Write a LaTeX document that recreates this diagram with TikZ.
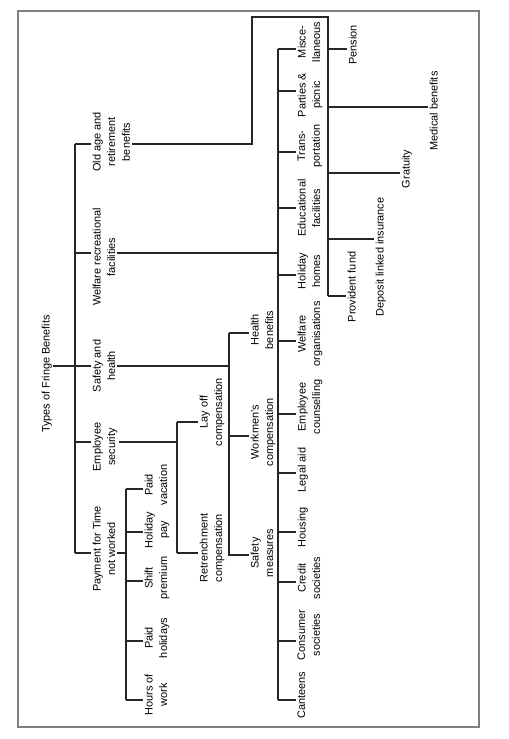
\documentclass[tikz,border=0pt]{standalone}
\usepackage{fontspec}
\setmainfont{Liberation Sans}
\begin{document}
\begin{tikzpicture}[x=0.75pt, y=-0.75pt,
        lbl/.style={rotate=90, anchor=north, align=center, inner sep=1pt,
            font=\fontsize{8.2}{11}\selectfont},
        link/.style={line width=0.8pt, color=black!85}]
    \useasboundingbox (0,0) rectangle (509,739);
    \draw[gray, line width=1.2pt] (18,11) rectangle (479,727);

    % root and first level
    \node[lbl] (fringe) at (40,374) {Types of Fringe Benefits};
    \node[lbl] (oldage) at (91,142) {Old age and\\retirement\\benefits};
    \node[lbl] (welfare) at (91,257) {Welfare recreational\\facilities};
    \node[lbl] (safety) at (91,366) {Safety and\\health};
    \node[lbl] (security) at (91,447) {Employee\\security};
    \node[lbl] (payment) at (91,549) {Payment for Time\\not worked};

    \coordinate (jold) at (75,144);
    \coordinate (jwelf) at (75,253);
    \coordinate (jroot) at (75,366);
    \coordinate (jsec) at (75,442);
    \coordinate (jpay) at (75,553);
    \draw[link] (jold) -- (jpay);
    \draw[link] (jroot -| fringe.south) -- (jroot -| safety.north);
    \foreach \j/\nm in {jold/oldage, jwelf/welfare, jsec/security, jpay/payment}
        \draw[link] (\j) -- (\j -| \nm.north);

    % old age and retirement benefits
    \coordinate (obend) at (252,17);
    \coordinate (otop) at (328,17);
    \coordinate (obot) at (328,296);
    \draw[link] (jold -| oldage.south) -| (obend) -- (otop) -- (obot);
    \foreach \nm/\nx/\ty/\cy/\txt in {pension/347/49/45/{Pension},
            medical/428/107/111/{Medical benefits},
            gratuity/400/173/169/{Gratuity},
            deposit/374/239/257/{Deposit linked insurance},
            provident/346/296/287/{Provident fund}} {
        \node[lbl] (\nm) at (\nx,\cy) {\txt};
        \coordinate (\nm-t) at (328,\ty);
        \draw[link] (\nm-t) -- (\nm-t -| \nm.north);
    }

    % welfare recreational facilities
    \coordinate (wtop) at (278,49);
    \coordinate (wbot) at (278,700);
    \draw[link] (jwelf -| welfare.south) -- (jwelf -| wtop);
    \draw[link] (wtop) -- (wbot);
    \foreach \nm/\ty/\cy/\txt in {misc/49/42/{Misce-\\llaneous},
            parties/91/95/{Parties \&\\picnic},
            transport/152/146/{Trans-\\portation},
            education/208/208/{Educational\\facilities},
            homes/275/271/{Holiday\\homes},
            organisations/341/334/{Welfare\\organisations},
            counselling/414/407/{Employee\\counselling},
            legal/473/470/{Legal aid},
            housing/532/527/{Housing},
            credit/582/578/{Credit\\societies},
            consumer/641/635/{Consumer\\societies},
            canteens/700/695/{Canteens}} {
        \node[lbl] (\nm) at (296,\cy) {\txt};
        \coordinate (\nm-t) at (278,\ty);
        \draw[link] (\nm-t) -- (\nm-t -| \nm.north);
    }

    % safety and health
    \coordinate (stop) at (229,333);
    \coordinate (sbot) at (229,556);
    \draw[link] (jroot -| safety.south) -- (jroot -| stop);
    \draw[link] (stop) -- (sbot);
    \foreach \nm/\ty/\cy/\txt in {health/333/330/{Health\\benefits},
            workmen/436/432/{Workmen's\\compensation},
            measures/555/553/{Safety\\measures}} {
        \node[lbl] (\nm) at (249,\cy) {\txt};
        \coordinate (\nm-t) at (229,\ty);
        \draw[link] (\nm-t) -- (\nm-t -| \nm.north);
    }

    % employee security
    \coordinate (etop) at (177,422);
    \coordinate (ebot) at (177,553);
    \draw[link] (jsec -| security.south) -- (jsec -| etop);
    \draw[link] (etop) -- (ebot);
    \foreach \nm/\ty/\cy/\txt in {layoff/422/412/{Lay off\\compensation},
            retrench/553/548/{Retrenchment\\compensation}} {
        \node[lbl] (\nm) at (198,\cy) {\txt};
        \coordinate (\nm-t) at (177,\ty);
        \draw[link] (\nm-t) -- (\nm-t -| \nm.north);
    }

    % payment for time not worked
    \coordinate (ptop) at (126,489);
    \coordinate (pbot) at (126,700);
    \draw[link] (jpay -| payment.south) -- (jpay -| ptop);
    \draw[link] (ptop) -- (pbot);
    \foreach \nm/\ty/\cy/\txt in {vacation/489/485/{Paid\\vacation},
            holidaypay/532/530/{Holiday\\pay},
            shift/581/578/{Shift\\premium},
            paidhol/641/638/{Paid\\holidays},
            hours/700/695/{Hours of\\work}} {
        \node[lbl] (\nm) at (143,\cy) {\txt};
        \coordinate (\nm-t) at (126,\ty);
        \draw[link] (\nm-t) -- (\nm-t -| \nm.north);
    }
\end{tikzpicture}
\end{document}
